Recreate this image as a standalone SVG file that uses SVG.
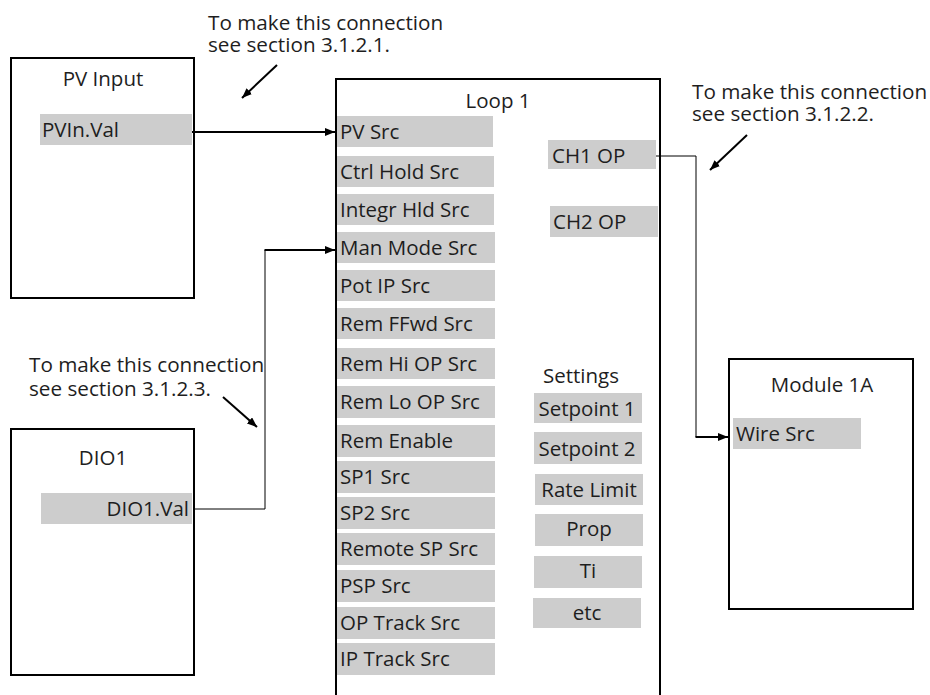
<svg xmlns="http://www.w3.org/2000/svg" width="930" height="695" viewBox="0 0 930 695">
<defs>
<style>
text{font-family:"Open Sans","Liberation Sans",sans-serif;font-size:20.5px;fill:#1e1e1e}
.note{font-size:20.7px}
.box{fill:#fff;stroke:#000;stroke-width:2}
.bar{fill:#cdcdcd}
.mid{text-anchor:middle}
.end{text-anchor:end}
.thin{fill:none;stroke:#000;stroke-width:1}
.thick{fill:none;stroke:#000;stroke-width:2}
</style>
<marker id="ah" markerUnits="userSpaceOnUse" markerWidth="10" markerHeight="8" refX="10" refY="4" orient="auto">
<path d="M0,0 L10,4 L0,8 z" fill="#000"/>
</marker>
</defs>
<rect width="930" height="695" fill="#fff"/>

<g id="pv-input">
<rect class="box" x="11" y="58" width="183" height="240"/>
<text class="mid" x="103" y="86">PV Input</text>
<rect class="bar" x="40" y="114" width="152" height="31"/>
<text x="42" y="137">PVIn.Val</text>
</g>

<g id="dio1">
<rect class="box" x="11" y="429" width="183" height="246"/>
<text class="mid" x="103" y="465">DIO1</text>
<rect class="bar" x="41" y="493" width="151" height="31"/>
<text class="end" x="189" y="516">DIO1.Val</text>
</g>

<g id="loop1">
<path class="thick" d="M336,697 V79 H660 V697"/>
<text class="mid" x="498" y="108">Loop 1</text>
<rect class="bar" x="337" y="116" width="156" height="31"/><text x="340" y="139">PV Src</text>
<rect class="bar" x="337" y="156" width="157" height="31"/><text x="340" y="179">Ctrl Hold Src</text>
<rect class="bar" x="337" y="194" width="157" height="31"/><text x="340" y="217">Integr Hld Src</text>
<rect class="bar" x="337" y="232" width="158" height="31"/><text x="340" y="255">Man Mode Src</text>
<rect class="bar" x="337" y="270" width="158" height="31"/><text x="340" y="293">Pot IP Src</text>
<rect class="bar" x="337" y="308" width="158" height="31"/><text x="340" y="331">Rem FFwd Src</text>
<rect class="bar" x="337" y="348" width="158" height="31"/><text x="340" y="371">Rem Hi OP Src</text>
<rect class="bar" x="337" y="386" width="158" height="32"/><text x="340" y="409">Rem Lo OP Src</text>
<rect class="bar" x="337" y="425" width="158" height="32"/><text x="340" y="448">Rem Enable</text>
<rect class="bar" x="337" y="461" width="158" height="32"/><text x="340" y="484">SP1 Src</text>
<rect class="bar" x="337" y="497" width="158" height="32"/><text x="340" y="520">SP2 Src</text>
<rect class="bar" x="337" y="533" width="158" height="32"/><text x="340" y="556">Remote SP Src</text>
<rect class="bar" x="337" y="570" width="158" height="32"/><text x="340" y="593">PSP Src</text>
<rect class="bar" x="337" y="607" width="158" height="32"/><text x="340" y="630">OP Track Src</text>
<rect class="bar" x="337" y="643" width="158" height="32"/><text x="340" y="666">IP Track Src</text>
<rect class="bar" x="548" y="140" width="108" height="29"/><text x="552" y="163">CH1 OP</text>
<rect class="bar" x="550" y="206" width="108" height="31"/><text x="553" y="229">CH2 OP</text>
<text x="543" y="383">Settings</text>
<rect class="bar" x="534" y="393" width="108" height="30"/><text class="mid" x="587" y="416">Setpoint 1</text>
<rect class="bar" x="534" y="432" width="108" height="32"/><text class="mid" x="587" y="456">Setpoint 2</text>
<rect class="bar" x="535" y="474" width="108" height="31"/><text class="mid" x="589" y="497">Rate Limit</text>
<rect class="bar" x="535" y="514" width="108" height="32"/><text class="mid" x="589" y="536">Prop</text>
<rect class="bar" x="534" y="556" width="108" height="32"/><text class="mid" x="588" y="578">Ti</text>
<rect class="bar" x="533" y="598" width="108" height="30"/><text class="mid" x="587" y="620">etc</text>
</g>

<g id="module1a">
<rect class="box" x="729" y="359" width="184" height="250"/>
<text class="mid" x="822" y="392">Module 1A</text>
<rect class="bar" x="733" y="418" width="128" height="31"/>
<text x="736" y="441">Wire Src</text>
</g>

<g id="callouts">
<text class="note" x="208" y="30">To make this connection<tspan x="208" y="52">see section 3.1.2.1.</tspan></text>
<text class="note" x="692" y="99">To make this connection<tspan x="692" y="121">see section 3.1.2.2.</tspan></text>
<text class="note" x="29" y="372">To make this connection<tspan x="29" y="396">see section 3.1.2.3.</tspan></text>
</g>

<g id="connectors">
<path class="thick" d="M192,132 H335" marker-end="url(#ah)"/>
<path class="thin" d="M194,509 H265 V250"/>
<path class="thick" d="M264.5,250 H335" marker-end="url(#ah)"/>
<path class="thin" d="M656,156 H696 V437"/>
<path class="thick" d="M695.5,437 H728" marker-end="url(#ah)"/>
<path class="thick" d="M277,65 L242,98" marker-end="url(#ah)"/>
<path class="thick" d="M747,135 L710,170" marker-end="url(#ah)"/>
<path class="thick" d="M223,397 L257,427" marker-end="url(#ah)"/>
</g>
</svg>
